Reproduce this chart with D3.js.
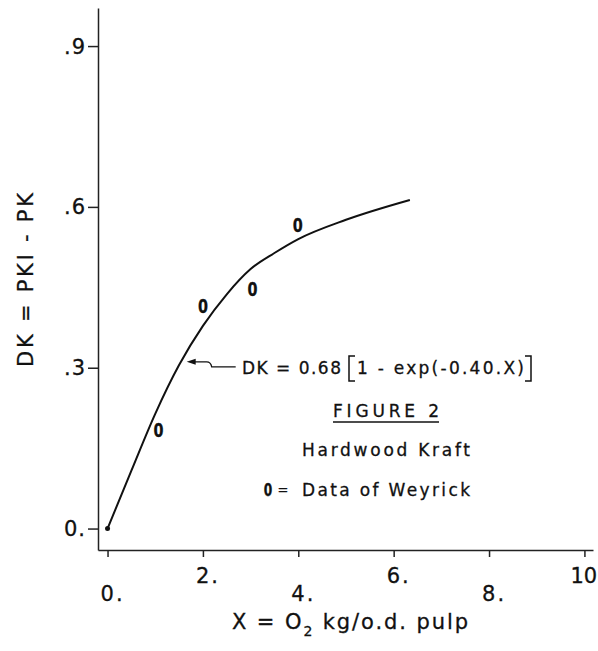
<!DOCTYPE html>
<html>
<head>
<meta charset="utf-8">
<script src="https://cdn.jsdelivr.net/npm/d3@7"></script>
<style>
body { margin:0; background:#fff; }
svg text { font-family: "DejaVu Sans", "Liberation Sans", sans-serif; fill:#111; stroke:#111; stroke-width:0.3px; }
</style>
</head>
<body>
<div id="chart"></div>
<script>
// fitted curve DK = 0.68[1-exp(-0.40X)]
var curveX=[0,0.5,1.0,1.5,2.0,2.5,3.0,3.5,4.0,5.0,6.34];
var curveDK=[0,0.108,0.214,0.305,0.378,0.437,0.484,0.514,0.540,0.576,0.613];
// data of Weyrick ("0" markers)
var dataX=[1.07,2.0,3.04,3.99];
var dataDK=[0.184,0.415,0.447,0.567];
var xTicks=[0,2,4,6,8,10];
var xTickLabels=["0.","2.","4.","6.","8.","10"];
var yTicks=[0,0.3,0.6,0.9];
var yTickLabels=["0.",".3",".6",".9"];

// narrow bold "0" used for the data points
function zero(sel,px,py,size) {
    sel.append("text")
        .attr("transform","translate("+px+","+py+") scale(0.72,1)")
        .attr("dy","0.36em")
        .attr("text-anchor","middle")
        .attr("font-weight","bold")
        .attr("font-size",size)
        .text("0");
    }

function draw() {
    var svg=d3.select("#chart").append("svg")
        .attr("width",598)
        .attr("height",651);

    var x=d3.scaleLinear().domain([-0.2,10.18]).range([98,593]);
    var y=d3.scaleLinear().domain([-0.04,0.971]).range([550,8]);

    // axes
    svg.append("g")
        .attr("transform","translate(0,550)")
        .call(d3.axisBottom(x).tickValues(xTicks).tickSize(7).tickSizeOuter(0).tickFormat(""));
    svg.append("g")
        .attr("transform","translate(98,0)")
        .call(d3.axisLeft(y).tickValues(yTicks).tickSize(10).tickSizeOuter(0).tickFormat(""));
    svg.selectAll(".domain, .tick line")
        .attr("stroke","#222")
        .attr("stroke-width",1.5);

    // x tick labels, staggered like the original
    var xl=svg.selectAll("text.xlab")
        .data(xTicks)
        .enter()
        .append("text")
        .attr("class","xlab")
        .attr("x",function(d,i) {
            return x(d)-xTickLabels[i].replace(".","").length*7;
            })
        .attr("y",function(d,i) { return i%2 ? 583 : 601; })
        .attr("font-size",21);
    xl.append("tspan")
        .text(function(d,i) { return xTickLabels[i].replace(".",""); });
    xl.append("tspan")
        .attr("dx",2)
        .text(function(d,i) { return xTickLabels[i].indexOf(".")>=0 ? "." : ""; });

    svg.selectAll("text.ylab")
        .data(yTicks)
        .enter()
        .append("text")
        .attr("class","ylab")
        .attr("x",86)
        .attr("y",function(d) { return y(d); })
        .attr("dy","0.36em")
        .attr("text-anchor","end")
        .attr("font-size",21)
        .attr("letter-spacing",1)
        .text(function(d,i) { return yTickLabels[i]; });

    // axis titles
    var xt=svg.append("text")
        .attr("x",232)
        .attr("y",629)
        .attr("font-size",21)
        .attr("textLength",236)
        .attr("lengthAdjust","spacing");
    xt.append("tspan").text("X = O");
    xt.append("tspan").attr("dy",7).attr("font-size",14).text("2");
    xt.append("tspan").attr("dy",-7).text(" kg/o.d. pulp");

    svg.append("text")
        .attr("transform","translate(33,280) rotate(-90)")
        .attr("text-anchor","middle")
        .attr("font-size",21)
        .attr("textLength",174)
        .attr("lengthAdjust","spacing")
        .text("DK = PKI - PK");

    // curve
    var line=d3.line()
        .x(function(d) { return x(d[0]); })
        .y(function(d) { return y(d[1]); })
        .curve(d3.curveMonotoneX);
    svg.append("path")
        .datum(_zip(curveX,curveDK))
        .attr("d",line)
        .attr("fill","none")
        .attr("stroke","#111")
        .attr("stroke-width",2);
    svg.append("circle")
        .attr("cx",x(curveX[0]))
        .attr("cy",y(curveDK[0]))
        .attr("r",2.5)
        .attr("fill","#111");

    // data markers
    _zip(dataX,dataDK).forEach(function(d) {
        zero(svg,x(d[0]),y(d[1]),20);
        });

    // arrow + equation
    var tx=x(1.66), ty=y(0.311);
    svg.append("path")
        .attr("d","M"+tx+","+ty+"l9,-3v6z")
        .attr("fill","#111");
    svg.append("path")
        .attr("d","M"+(tx+8)+","+ty+"h12q4,0 5,5h24")
        .attr("fill","none")
        .attr("stroke","#111")
        .attr("stroke-width",1.3);
    svg.append("text")
        .attr("x",242).attr("y",374)
        .attr("font-size",17)
        .attr("textLength",99)
        .attr("lengthAdjust","spacing")
        .text("DK = 0.68");
    svg.append("text")
        .attr("x",357).attr("y",374)
        .attr("font-size",17)
        .attr("textLength",167)
        .attr("lengthAdjust","spacing")
        .text("1 - exp(-0.40.X)");
    svg.append("path")
        .attr("d","M355,356H349V381H355M525,356H531V381H525")
        .attr("fill","none")
        .attr("stroke","#111")
        .attr("stroke-width",1.5);

    // caption
    svg.append("text")
        .attr("x",386).attr("y",417)
        .attr("text-anchor","middle")
        .attr("font-size",17)
        .attr("textLength",106)
        .attr("lengthAdjust","spacing")
        .text("FIGURE 2");
    svg.append("line")
        .attr("x1",333).attr("x2",439)
        .attr("y1",422).attr("y2",422)
        .attr("stroke","#111")
        .attr("stroke-width",1.5);
    svg.append("text")
        .attr("x",302).attr("y",456)
        .attr("font-size",17)
        .attr("textLength",168)
        .attr("lengthAdjust","spacing")
        .text("Hardwood Kraft");
    zero(svg,268,490,17);
    svg.append("text")
        .attr("x",283).attr("y",494)
        .attr("text-anchor","middle")
        .attr("font-size",13)
        .text("=");
    svg.append("text")
        .attr("x",302).attr("y",496)
        .attr("font-size",17)
        .attr("textLength",168)
        .attr("lengthAdjust","spacing")
        .text("Data of Weyrick");
    }

function _zip(a,b) {
    return a.map(function(d,i) { return [d,b[i]]; });
    }

draw();
</script>
</body>
</html>
